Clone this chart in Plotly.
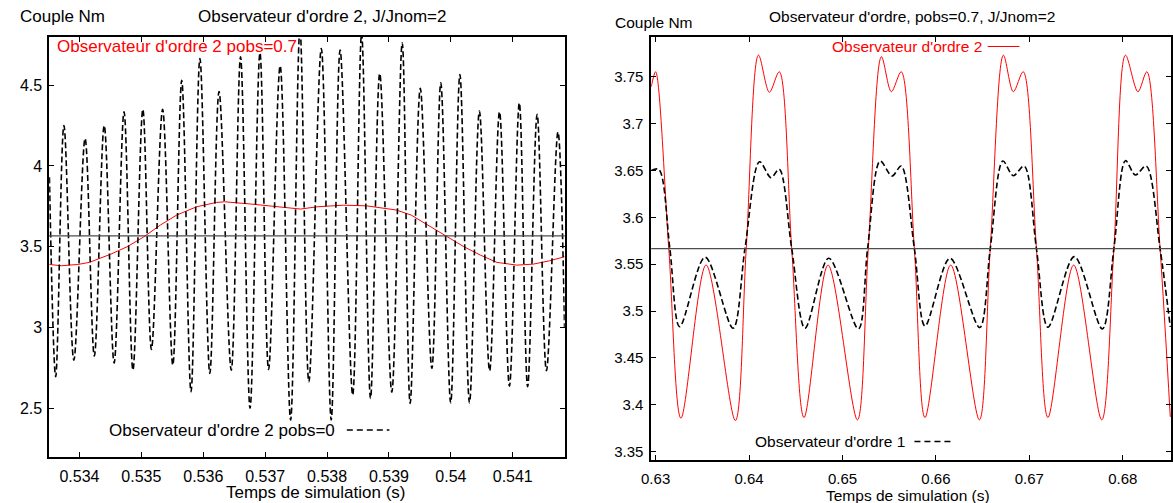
import plotly.graph_objects as go

# ---------------- data (left panel: J/Jnom = 2, observateur d'ordre 2) ----------------
left_t_pobs0 = [0.533515, 0.533616, 0.533749, 0.533909, 0.534091, 0.534240, 0.534400, 0.534560,
                0.534720, 0.534864, 0.535024, 0.535163, 0.535343, 0.535508, 0.535652, 0.535802,
                0.535946, 0.536106, 0.536255, 0.536452, 0.536602, 0.536756, 0.536916, 0.537055,
                0.537242, 0.537411, 0.537562, 0.537706, 0.537907, 0.538067, 0.538211, 0.538414,
                0.538558, 0.538702, 0.538851, 0.539046, 0.539214, 0.539342, 0.539506, 0.539693,
                0.539837, 0.539997, 0.540146, 0.540301, 0.540461, 0.540626, 0.540786, 0.540946,
                0.541106, 0.541240, 0.541394, 0.541544, 0.541730, 0.541837]
left_c_pobs0 = [3.93, 2.695, 4.25, 2.798, 4.17, 2.823, 4.25, 2.78,
                4.335, 2.736, 4.35, 2.864, 4.35, 2.767, 4.53, 2.602,
                4.665, 2.716, 4.46, 2.736, 4.675, 2.50, 4.70, 2.74,
                4.62, 2.427, 4.85, 2.664, 4.727, 2.427, 4.717, 2.582,
                4.82, 2.561, 4.572, 2.60, 4.762, 2.53, 4.48, 2.747,
                4.514, 2.534, 4.566, 2.534, 4.339, 2.732, 4.335, 2.637,
                4.39, 2.633, 4.319, 2.732, 4.21, 3.0]

left_t_pobs07 = [0.533515, 0.533707, 0.533973, 0.534160, 0.534507, 0.534772, 0.535040, 0.535307,
                 0.535572, 0.535892, 0.536212, 0.536346, 0.536772, 0.537199, 0.537571, 0.537838,
                 0.538265, 0.538638, 0.538905, 0.539118, 0.539358, 0.539678, 0.539945, 0.540210,
                 0.540477, 0.540744, 0.541064, 0.541330, 0.541597, 0.541837]
left_c_pobs07 = [3.39, 3.382, 3.39, 3.403, 3.454, 3.50, 3.561, 3.634,
                 3.696, 3.747, 3.774, 3.778, 3.764, 3.747, 3.733, 3.747,
                 3.757, 3.753, 3.741, 3.727, 3.696, 3.623, 3.558, 3.50,
                 3.448, 3.403, 3.386, 3.392, 3.413, 3.438]

# ---------------- data (right panel: pobs = 0.7, J/Jnom = 2) ----------------
right_t_ordre2 = [0.629534, 0.630000, 0.631408, 0.632710, 0.635399, 0.638533, 0.639697, 0.641010,
                  0.642174, 0.643233, 0.644567, 0.645880, 0.648452, 0.651596, 0.652761, 0.654169,
                  0.655228, 0.656286, 0.657694, 0.658827, 0.661580, 0.664650, 0.665814, 0.667222,
                  0.668281, 0.669340, 0.670758, 0.671986, 0.674739, 0.677745, 0.679047, 0.680286,
                  0.681620, 0.682573, 0.683991, 0.685082]
right_c_ordre2 = [3.7393, 3.7553, 3.5665, 3.3856, 3.5491, 3.3831, 3.5665, 3.7731,
                  3.7334, 3.7553, 3.5665, 3.3863, 3.549, 3.3838, 3.5665, 3.7713,
                  3.734, 3.7553, 3.5665, 3.3863, 3.549, 3.3838, 3.5665, 3.773,
                  3.734, 3.7553, 3.5665, 3.3863, 3.549, 3.3838, 3.5665, 3.773,
                  3.734, 3.7553, 3.5665, 3.387]

right_t_ordre1 = [0.629534, 0.630349, 0.631524, 0.632573, 0.635293, 0.638289, 0.639560, 0.641116,
                  0.642344, 0.643233, 0.644567, 0.645985, 0.648526, 0.651702, 0.652686, 0.654031,
                  0.655302, 0.656286, 0.657694, 0.658827, 0.661505, 0.664682, 0.665814, 0.667159,
                  0.668281, 0.669445, 0.670758, 0.671986, 0.674813, 0.677809, 0.679047, 0.680286,
                  0.681345, 0.682509, 0.683991, 0.685082]
right_c_ordre1 = [3.650, 3.651, 3.5665, 3.4833, 3.5574, 3.4816, 3.5665, 3.6593,
                  3.6423, 3.6512, 3.5665, 3.4816, 3.5563, 3.4809, 3.5665, 3.660,
                  3.644, 3.6547, 3.5665, 3.484, 3.5563, 3.4823, 3.5665, 3.660,
                  3.6444, 3.6547, 3.5665, 3.4827, 3.558, 3.4809, 3.5665, 3.6604,
                  3.6451, 3.6547, 3.5665, 3.483]

NOMINAL_TORQUE = 3.5665

left_xrange = [0.53351, 0.54184]
left_yrange = [2.2, 4.8]
right_xrange = [0.62953, 0.68516]
right_yrange = [3.341, 3.7927]

# ---------------- figure ----------------
W, H = 1173, 503
FONT = "Liberation Sans, Arial, sans-serif"
FS_L, FS_L_TICK = 17, 16      # left panel text sizes
FS_R, FS_R_TICK = 15.5, 15    # right panel text sizes

fig = go.Figure()
fig.add_trace(go.Scatter(x=left_t_pobs07, y=left_c_pobs07, mode="lines",
                         line=dict(color="#ff0000", width=1), xaxis="x", yaxis="y"))
fig.add_trace(go.Scatter(x=left_t_pobs0, y=left_c_pobs0, mode="lines",
                         line=dict(color="black", width=1.6, dash="6px,3px", shape="spline", smoothing=1),
                         xaxis="x", yaxis="y"))
fig.add_trace(go.Scatter(x=right_t_ordre2, y=right_c_ordre2, mode="lines",
                         line=dict(color="#ff0000", width=1, shape="spline", smoothing=0.9),
                         xaxis="x2", yaxis="y2"))
fig.add_trace(go.Scatter(x=right_t_ordre1, y=right_c_ordre1, mode="lines",
                         line=dict(color="black", width=1.6, dash="6px,3px", shape="spline", smoothing=0.9),
                         xaxis="x2", yaxis="y2"))

def px(x):
    return x / W

def py(y):
    return 1 - y / H

def axis_style(size):
    return dict(showgrid=False, zeroline=False, showline=True, linecolor="black", linewidth=1.6,
                mirror="ticks", ticks="inside", ticklen=5, tickwidth=1, tickcolor="black",
                tickfont=dict(family=FONT, size=size, color="black"))

fig.update_layout(
    width=W, height=H, margin=dict(l=0, r=0, t=0, b=0),
    paper_bgcolor="white", plot_bgcolor="white", showlegend=False,
    xaxis=dict(domain=[px(39.5), px(560)], range=left_xrange, dtick=0.001, tick0=0.534,
               anchor="y", ticklabelstandoff=4, **axis_style(FS_L_TICK)),
    yaxis=dict(domain=[py(456.7), py(36.7)], range=left_yrange, dtick=0.5, tick0=2.5,
               anchor="x", ticklabelstandoff=2, **axis_style(FS_L_TICK)),
    xaxis2=dict(domain=[px(647.3), px(1172)], range=right_xrange, dtick=0.01, tick0=0.63,
                anchor="y2", ticklabelstandoff=4, **axis_style(FS_R_TICK)),
    yaxis2=dict(domain=[py(460), py(36.7)], range=right_yrange, dtick=0.05, tick0=3.35,
                anchor="x2", ticklabelstandoff=3, **axis_style(FS_R_TICK)),
)

# nominal torque lines
for xr, yr in (("x", "y"), ("x2", "y2")):
    fig.add_shape(type="line", xref=xr + " domain", yref=yr, x0=0, x1=1,
                  y0=NOMINAL_TORQUE, y1=NOMINAL_TORQUE, line=dict(color="#4d4d4d", width=1.2))

def ann(text, x, y, size, color="black"):
    fig.add_annotation(text=text, x=px(x), y=py(y), xref="paper", yref="paper", showarrow=False,
                       xanchor="center", yanchor="middle", borderpad=0,
                       font=dict(family=FONT, size=size, color=color))

# titles and axis labels
ann("Couple Nm", 52.5, 17, FS_L)
ann("Observateur d'ordre 2, J/Jnom=2", 314.5, 17, FS_L)
ann("Temps de simulation (s)", 309, 492, FS_L)
ann("Couple Nm", 650.5, 22.5, FS_R)
ann("Observateur d'ordre, pobs=0.7, J/Jnom=2", 911, 17, FS_R)
ann("Temps de simulation (s)", 906, 495, FS_R)

# in-plot legends
ann("Observateur d'ordre 2 pobs=0.7", 168.5, 46.5, FS_L, "#ff0000")
ann("Observateur d'ordre 2 pobs=0", 214, 430, FS_L)
fig.add_shape(type="line", xref="paper", yref="paper", x0=px(340), x1=px(383), y0=py(430), y1=py(430),
              line=dict(color="black", width=1.5, dash="6px,4px"))
ann("Observateur d'ordre 2", 905, 46.5, FS_R, "#ff0000")
fig.add_shape(type="line", xref="paper", yref="paper", x0=px(987), x1=px(1019), y0=py(46.5), y1=py(46.5),
              line=dict(color="#ff0000", width=1.2))
ann("Observateur d'ordre 1", 827.5, 441.5, FS_R)
fig.add_shape(type="line", xref="paper", yref="paper", x0=px(913), x1=px(951), y0=py(441.5), y1=py(441.5),
              line=dict(color="black", width=1.5, dash="6px,4px"))

fig.write_html("out.html", config={"displayModeBar": False},
               post_script="document.body.style.margin='0';document.body.style.overflow='hidden';")
